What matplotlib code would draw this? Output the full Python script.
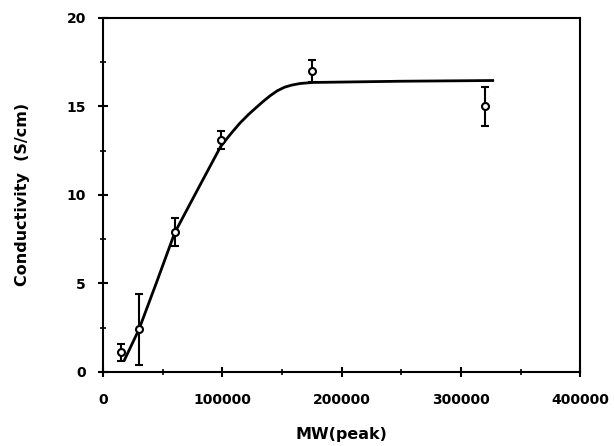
import numpy as np
import matplotlib.pyplot as plt
from matplotlib.ticker import MultipleLocator

plt.rcParams['font.family'] = ['DejaVu Sans']

# Datos medidos
mw = [15000, 30000, 60000, 98500, 175000, 320000]
cond = [1.1, 2.4, 7.9, 13.1, 17.0, 15.0]
err = [0.5, 2.0, 0.8, 0.5, 0.6, 1.1]

# Curva ajustada
fit_mw = [17900, 30000, 45000, 60000, 80000, 98500, 107000, 114600, 122000,
          128600, 134000, 140000, 146000, 152000, 158000, 165000, 175500,
          250000, 326600]
fit_cond = [0.68, 2.4, 5.1, 7.86, 10.4, 12.73, 13.45, 14.05, 14.55,
            14.95, 15.27, 15.6, 15.88, 16.08, 16.2, 16.29, 16.35,
            16.42, 16.46]

fig = plt.figure(figsize=(6.14, 4.46), dpi=100)
ax = fig.add_axes([0.168, 0.166, 0.777, 0.794])

ax.plot(fit_mw, fit_cond, '-', color='black', linewidth=2)
ax.errorbar(mw, cond, yerr=err, fmt='o', color='black', mfc='white',
            mec='black', ms=5, mew=1.5, ecolor='black', elinewidth=1.5,
            capsize=3, capthick=1.5, zorder=3)

ax.set_xlim(0, 400000)
ax.set_ylim(0, 20)
ax.xaxis.set_major_locator(MultipleLocator(100000))
ax.xaxis.set_minor_locator(MultipleLocator(50000))
ax.yaxis.set_major_locator(MultipleLocator(5))
ax.yaxis.set_minor_locator(MultipleLocator(2.5))
ax.tick_params(which='major', direction='inout', length=7, width=1.5)
ax.tick_params(axis='x', which='major', pad=12)
ax.tick_params(axis='y', which='major', pad=9)
ax.tick_params(which='minor', direction='inout', length=4, width=1.2)
for lab in ax.get_xticklabels() + ax.get_yticklabels():
    lab.set_fontweight('bold')
    lab.set_fontsize(10)
for s in ax.spines.values():
    s.set_linewidth(1.5)

ax.set_xlabel('MW(peak)', fontsize=11.5, fontweight='bold', labelpad=14)
ax.set_ylabel('Conductivity  (S/cm)', fontsize=11.5, fontweight='bold', labelpad=26)

fig.savefig('out.png', dpi=100)
